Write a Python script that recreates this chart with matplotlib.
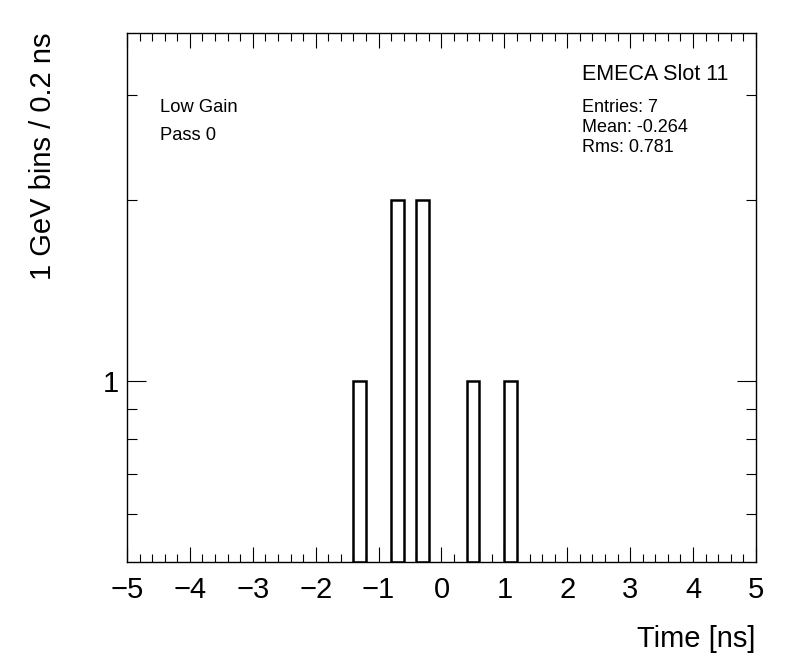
import matplotlib
matplotlib.use('Agg')
import matplotlib.pyplot as plt
from matplotlib.ticker import FixedLocator, MultipleLocator, NullFormatter
import numpy as np

plt.rcParams['font.family'] = ['Liberation Sans', 'DejaVu Sans']

# histogram contents (0.2 ns bins, only filled bins listed)
bin_low = [-1.4, -0.8, -0.4, 0.4, 1.0]
counts = [1, 2, 2, 1, 1]
bin_width = 0.2

title = "EMECA Slot 11"
stats = ["Entries: 7", "Mean: -0.264", "Rms: 0.781"]
notes = ["Low Gain", "Pass 0"]

H = 672
fig = plt.figure(figsize=(7.96, 6.72), dpi=100)
ax = fig.add_axes([0.1595, 0.1637, 0.7902, 0.7872])

ymin, ymax = 0.5, 3.8
ax.bar(bin_low, np.array(counts) - ymin, width=bin_width, align='edge',
       bottom=ymin, fill=False, edgecolor='black', linewidth=1.8)
ax.set_yscale('log')
ax.set_xlim(-5, 5)
ax.set_ylim(ymin, ymax)

# ROOT style ticks
ax.xaxis.set_major_locator(MultipleLocator(1))
ax.xaxis.set_minor_locator(MultipleLocator(0.2))
ax.yaxis.set_major_locator(FixedLocator([1]))
ax.yaxis.set_minor_locator(FixedLocator([0.6, 0.7, 0.8, 0.9, 2, 3]))
ax.yaxis.set_major_formatter(plt.FuncFormatter(lambda v, p: "%g" % v))
ax.yaxis.set_minor_formatter(NullFormatter())
ax.tick_params(which='both', direction='in', top=True, right=True,
               width=0.8, labelsize=21)
ax.tick_params(axis='x', which='major', length=11, pad=10)
ax.tick_params(axis='x', which='minor', length=6)
ax.tick_params(axis='y', which='major', length=14, pad=6)
ax.tick_params(axis='y', which='minor', length=7)
for s in ax.spines.values():
    s.set_linewidth(1.0)

ax.set_xlabel("Time [ns]", fontsize=21, loc='right', labelpad=15)
ax.set_ylabel("1 GeV bins / 0.2 ns", fontsize=21, loc='top', labelpad=33)

# pixel positions measured from the top-left corner
ax.text(582, H - 74, title, transform=None, fontsize=15.5, va='center')
for i, s in enumerate(stats):
    ax.text(582, H - (107 + i * 20), s, transform=None, fontsize=13,
            va='center')
for i, s in enumerate(notes):
    ax.text(160, H - (108 + i * 27), s, transform=None, fontsize=13.2,
            va='center')

plt.savefig("out.png", dpi=100)
